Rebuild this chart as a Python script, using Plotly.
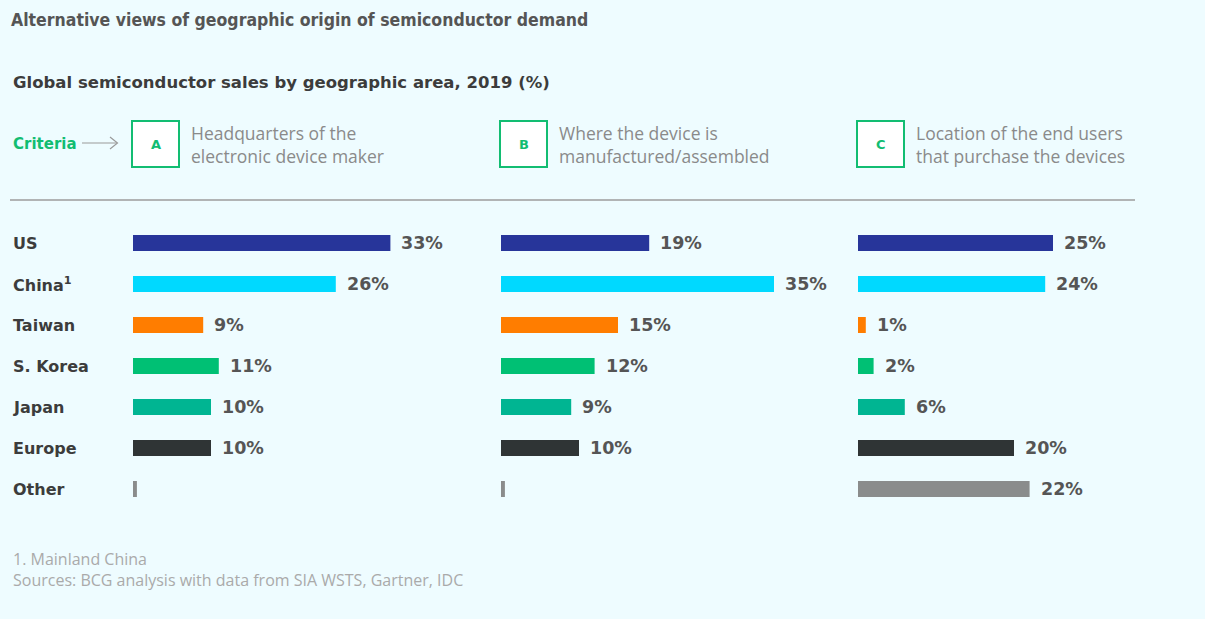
import plotly.graph_objects as go

W, H = 1205, 619

regions = ["US", "China", "Taiwan", "S. Korea", "Japan", "Europe", "Other"]
region_labels = ["US", "China<sup>1</sup>", "Taiwan", "S. Korea", "Japan", "Europe", "Other"]
bar_colors = ["#27359A", "#00D9FF", "#FF7D00", "#00C074", "#00B592", "#2F3435", "#8A8C8C"]

share_a = [33, 26, 9, 11, 10, 10, 0.5]
share_b = [19, 35, 15, 12, 9, 10, 0.5]
share_c = [25, 24, 1, 2, 6, 20, 22]
labels_a = ["33%", "26%", "9%", "11%", "10%", "10%", ""]
labels_b = ["19%", "35%", "15%", "12%", "9%", "10%", ""]
labels_c = ["25%", "24%", "1%", "2%", "6%", "20%", "22%"]

criteria = ["A", "B", "C"]
criteria_text = [
    "Headquarters of the<br>electronic device maker",
    "Where the device is<br>manufactured/assembled",
    "Location of the end users<br>that purchase the devices",
]

BG = "#EEFCFF"
GREEN = "#12BD72"


def px(x):
    return x / W


def py(y):
    return 1 - y / H


panel_left = [133, 501, 858]
scale = 7.8  # px per percent
xmax = 40
panel_w = xmax * scale

fig = go.Figure()
axes = ["x", "x2", "x3"]
series = [share_a, share_b, share_c]
texts = [labels_a, labels_b, labels_c]

for ax, vals in zip(axes, series):
    fig.add_trace(go.Bar(
        y=regions, x=vals, orientation="h", xaxis=ax, yaxis="y",
        marker=dict(color=bar_colors, line=dict(width=0)),
        width=0.39, showlegend=False, hoverinfo="skip",
    ))

layout_axes = {}
for i, left in enumerate(panel_left):
    name = "xaxis" if i == 0 else f"xaxis{i+1}"
    layout_axes[name] = dict(
        domain=[px(left), px(left + panel_w)], range=[0, xmax],
        visible=False, fixedrange=True, anchor="y",
    )

row_top, row_bot = 222.5, 509.5
fig.update_layout(
    width=W, height=H, margin=dict(l=0, r=0, t=0, b=0),
    paper_bgcolor=BG, plot_bgcolor="rgba(0,0,0,0)",
    yaxis=dict(domain=[py(row_bot), py(row_top)], categoryorder="array",
               categoryarray=regions, autorange="reversed", visible=False,
               fixedrange=True),
    **layout_axes,
)

ann = []
# value labels
for ax, vals, txt in zip(axes, series, texts):
    for r, v, t in zip(regions, vals, txt):
        if t:
            ann.append(dict(x=v, y=r, xref=ax, yref="y", text=t, showarrow=False,
                            xanchor="left", xshift=9,
                            font=dict(family="DejaVu Sans", size=17.5, color="#555555", weight="bold")))
# region labels
for r, lab in zip(regions, region_labels):
    ann.append(dict(x=px(11), y=r, xref="paper", yref="y", text=lab, showarrow=False,
                    xanchor="left",
                    font=dict(family="DejaVu Sans", size=16, color="#3c3c3c", weight="bold")))

# title & subtitle
ann.append(dict(x=px(9), y=py(20), xref="paper", yref="paper", xanchor="left", yanchor="middle",
                text="Alternative views of geographic origin of semiconductor demand", showarrow=False,
                font=dict(family="DejaVu Sans Condensed, DejaVu Sans", size=17.5, color="#555555", weight="bold")))
ann.append(dict(x=px(11), y=py(82), xref="paper", yref="paper", xanchor="left", yanchor="middle",
                text="Global semiconductor sales by geographic area, 2019 (%)", showarrow=False,
                font=dict(family="DejaVu Sans", size=16.5, color="#3c3c3c", weight="bold")))
# criteria
ann.append(dict(x=px(11), y=py(144), xref="paper", yref="paper", xanchor="left", yanchor="middle",
                text="Criteria", showarrow=False,
                font=dict(family="DejaVu Sans", size=15, color=GREEN, weight="bold")))

shapes = []
# arrow
shapes.append(dict(type="line", xref="paper", yref="paper", x0=px(82), x1=px(117), y0=py(143), y1=py(143),
                   line=dict(color="#9a9a9a", width=1.2)))
shapes.append(dict(type="path", xref="paper", yref="paper",
                   path=f"M {px(110)} {py(137)} L {px(117.5)} {py(143)} L {px(110)} {py(149)}",
                   line=dict(color="#9a9a9a", width=1.2)))

for left, letter, desc in zip(panel_left, criteria, criteria_text):
    shapes.append(dict(type="rect", xref="paper", yref="paper",
                       x0=px(left - 1), x1=px(left + 46), y0=py(167), y1=py(121),
                       fillcolor="white", line=dict(color=GREEN, width=2)))
    ann.append(dict(x=px(left + 22.5), y=py(144), xref="paper", yref="paper",
                    text=letter, showarrow=False, xanchor="center", yanchor="middle",
                    font=dict(family="DejaVu Sans", size=13, color=GREEN, weight="bold")))
    ann.append(dict(x=px(left + 56), y=py(145), xref="paper", yref="paper",
                    text=desc, showarrow=False, xanchor="left", yanchor="middle", align="left",
                    font=dict(family="Open Sans", size=17.5, color="#8a8a8a")))

# separator
shapes.append(dict(type="line", xref="paper", yref="paper", x0=px(10), x1=px(1135), y0=py(200), y1=py(200),
                   line=dict(color="#9c9c9c", width=1.6)))

# footnotes
ann.append(dict(x=px(11), y=py(569), xref="paper", yref="paper", xanchor="left", yanchor="middle",
                text="1. Mainland China<br>Sources: BCG analysis with data from SIA WSTS, Gartner, IDC",
                showarrow=False, align="left",
                font=dict(family="Open Sans", size=16, color="#aaaaaa")))

fig.update_layout(annotations=ann, shapes=shapes)
fig.write_html("out.html")
